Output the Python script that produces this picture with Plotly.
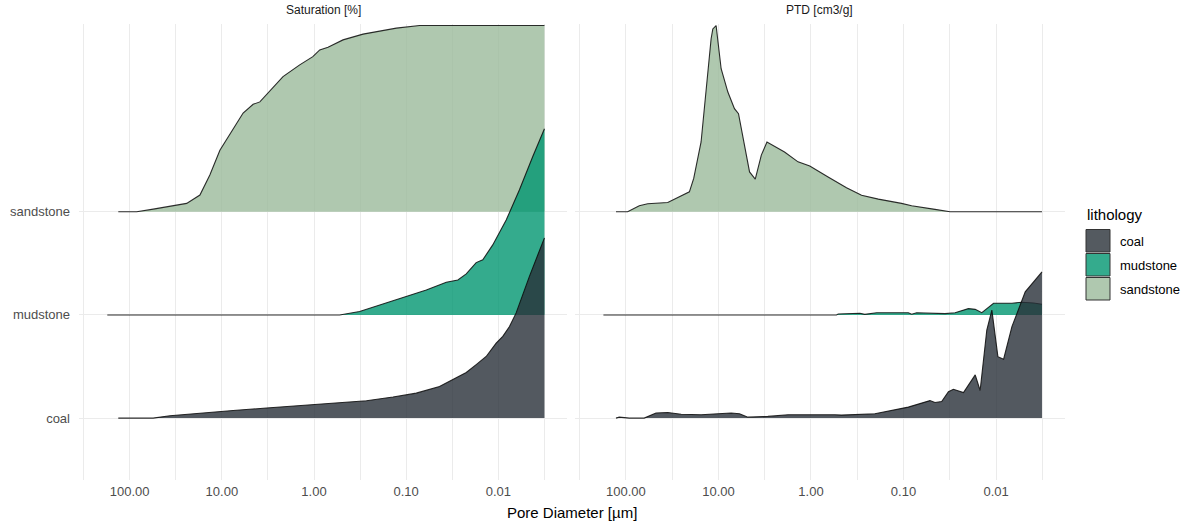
import plotly.graph_objects as go

# ---------------- data ----------------
lithologies = ["coal", "mudstone", "sandstone"]
panels = ["Saturation [%]", "PTD [cm3/g]"]
x_tick_values = [100, 10, 1, 0.1, 0.01]
x_tick_labels = ["100.00", "10.00", "1.00", "0.10", "0.01"]
x_minor_values = [316.2, 31.62, 3.162, 0.3162, 0.03162, 0.003162]

# Saturation [%] vs pore diameter [um]
sat_sandstone_d = [132.9, 84, 55.5, 39.7, 24.1, 17.3, 13.5, 10.5, 7.85, 5.88, 4.58, 3.87,
                   2.17, 1.43, 1.03, 0.867, 0.705, 0.485, 0.294, 0.128, 0.0716, 0.00316]
sat_sandstone_v = [0, 0, 1.4, 2.7, 4.5, 9, 19.7, 33, 43, 53, 57.7, 59,
                   72.6, 78.9, 83.3, 86.9, 88.4, 92.3, 95.4, 98.6, 100, 100]

sat_mudstone_d = [175, 0.527, 0.320, 0.179, 0.0997, 0.0605, 0.0367, 0.0275, 0.0223, 0.0174,
                  0.01475, 0.0115, 0.00822, 0.0059, 0.00423, 0.00316]
sat_mudstone_v = [0, 0, 1.8, 5.7, 9.8, 13.4, 17.6, 18.8, 22, 28.1,
                  29.6, 37.6, 51, 67.2, 85.1, 100]

sat_coal_d = [133, 55.5, 36.6, 17.3, 7.55, 3.28, 1.43, 0.622, 0.270, 0.139, 0.0778, 0.0435,
              0.0312, 0.0223, 0.0174, 0.01355, 0.01056, 0.00895, 0.00757, 0.00641, 0.0046, 0.00316]
sat_coal_v = [0, 0, 1.25, 2.7, 4.1, 5.4, 6.6, 8.1, 9.3, 11.3, 13.4, 17,
              20.6, 24.5, 28.7, 33.1, 40.3, 43.9, 49.2, 56.5, 76.1, 96.8]

# PTD, relative to the largest value in the panel
ptd_sandstone_d = [128, 95.8, 71.7, 58.2, 35.3, 20.6, 18.5, 15.4, 12.0, 11.5, 10.6, 9.35, 7.91,
                   6.71, 6.07, 4.61, 4.0, 3.44, 2.99, 1.93, 1.38, 1.03, 0.653, 0.413, 0.284,
                   0.187, 0.105, 0.0817, 0.0457, 0.0314, 0.00319]
ptd_sandstone_v = [0, 0, 0.032, 0.043, 0.050, 0.107, 0.179, 0.375, 0.929, 0.982, 1.0, 0.768, 0.643,
                   0.554, 0.527, 0.214, 0.175, 0.304, 0.375, 0.321, 0.268, 0.246, 0.187, 0.129, 0.089,
                   0.068, 0.045, 0.032, 0.013, 0, 0]

ptd_mudstone_d = [175, 0.531, 0.508, 0.296, 0.262, 0.195, 0.0887, 0.0817, 0.0721, 0.0356, 0.0277,
                  0.0199, 0.0168, 0.01425, 0.01064, 0.00674, 0.00525, 0.00393, 0.00319]
ptd_mudstone_v = [0, 0, 0.005, 0.009, 0.003, 0.012, 0.012, 0.004, 0.012, 0.007, 0.012,
                  0.034, 0.030, 0.012, 0.063, 0.063, 0.068, 0.064, 0.057]

ptd_coal_d = [128, 118, 92.1, 63.4, 47.3, 35.3, 25.3, 15.4, 10.1, 7.28, 5.92, 4.80, 2.92, 1.77,
              0.553, 0.468, 0.204, 0.0887, 0.0518, 0.0457, 0.0387, 0.0327, 0.0289, 0.0225, 0.0168,
              0.01486, 0.01259, 0.01110, 0.00955, 0.00829, 0.00674, 0.00484, 0.00319]
ptd_coal_v = [0, 0.005, 0, 0, 0.027, 0.030, 0.021, 0.018, 0.023, 0.027, 0.023, 0.005, 0.009, 0.018,
              0.018, 0.016, 0.023, 0.059, 0.094, 0.084, 0.089, 0.142, 0.155, 0.137, 0.232,
              0.148, 0.473, 0.580, 0.330, 0.316, 0.491, 0.678, 0.785]

# ---------------- styling ----------------
W, H = 1181, 522
FILL = {"coal": "rgba(40,48,56,0.8)", "mudstone": "rgba(1,150,113,0.8)", "sandstone": "rgba(155,186,155,0.8)"}
LEGEND_FILL = {"coal": "#545a60", "mudstone": "#34ab8d", "sandstone": "#afc8af"}
LINE = "rgba(10,10,10,0.85)"
BASE = {"coal": 1, "mudstone": 2, "sandstone": 3}
SCALE = 1.805
FONT = "Liberation Sans, Arial, sans-serif"

series = {
    ("x", "y"): {
        "sandstone": (sat_sandstone_d, [v / 100 for v in sat_sandstone_v]),
        "mudstone": (sat_mudstone_d, [v / 100 for v in sat_mudstone_v]),
        "coal": (sat_coal_d, [v / 100 for v in sat_coal_v]),
    },
    ("x2", "y2"): {
        "sandstone": (ptd_sandstone_d, ptd_sandstone_v),
        "mudstone": (ptd_mudstone_d, ptd_mudstone_v),
        "coal": (ptd_coal_d, ptd_coal_v),
    },
}

fig = go.Figure()
for (xa, ya), data in series.items():
    for lith in ["sandstone", "mudstone", "coal"]:
        d, v = data[lith]
        b = BASE[lith]
        yy = [b + SCALE * val for val in v]
        fig.add_trace(go.Scatter(
            x=list(d) + [d[-1], d[0]], y=yy + [b, b], fill="toself",
            fillcolor=FILL[lith], line=dict(width=0), mode="lines",
            xaxis=xa, yaxis=ya, showlegend=False, hoverinfo="skip"))
        fig.add_trace(go.Scatter(
            x=d, y=yy, mode="lines", line=dict(color=LINE, width=1.1),
            xaxis=xa, yaxis=ya, showlegend=False, name=lith))


def px(x):
    return x / W


def py(y):
    return 1 - y / H


left = (79, 567)
right = (575, 1065)
top, bottom = 24, 480

all_tickvals = []
all_ticktext = []
for v in sorted(x_tick_values + x_minor_values, reverse=True):
    all_tickvals.append(v)
    all_ticktext.append(x_tick_labels[x_tick_values.index(v)] if v in x_tick_values else "")

xcommon = dict(type="log", range=[2.55, -2.745], tickmode="array", tickvals=all_tickvals,
               ticktext=all_ticktext, showgrid=True, gridcolor="#ebebeb", gridwidth=1,
               zeroline=False, showline=False, ticks="", ticklabelstandoff=2,
               tickfont=dict(family=FONT, size=13, color="#4d4d4d"))
ycommon = dict(range=[0.4, 4.82], tickmode="array", tickvals=[1, 2, 3], ticktext=lithologies,
               showgrid=True, gridcolor="#ebebeb", gridwidth=1, zeroline=False, showline=False,
               ticks="", tickfont=dict(family=FONT, size=13, color="#4d4d4d"))

fig.update_layout(
    width=W, height=H, margin=dict(l=0, r=0, t=0, b=0),
    paper_bgcolor="white", plot_bgcolor="white",
    xaxis=dict(domain=[px(left[0]), px(left[1])], anchor="y", **xcommon),
    xaxis2=dict(domain=[px(right[0]), px(right[1])], anchor="y2", **xcommon),
    yaxis=dict(domain=[py(bottom), py(top)], anchor="x", showticklabels=True,
               ticklabelstandoff=8, **ycommon),
    yaxis2=dict(domain=[py(bottom), py(top)], anchor="x2", showticklabels=False, **ycommon),
    showlegend=False,
)

annotations = []
for name, (a, b) in zip(panels, [left, right]):
    annotations.append(dict(text=name, x=px((a + b) / 2), y=py(10), xref="paper", yref="paper",
                            showarrow=False, xanchor="center", yanchor="middle",
                            font=dict(family=FONT, size=12, color="#1a1a1a")))
annotations.append(dict(text="Pore Diameter [µm]", x=px((left[0] + right[1]) / 2), y=py(512),
                        xref="paper", yref="paper", showarrow=False, xanchor="center",
                        yanchor="middle", font=dict(family=FONT, size=15, color="#000000")))
annotations.append(dict(text="lithology", x=px(1085), y=py(215), xref="paper", yref="paper",
                        showarrow=False, xanchor="left", yanchor="middle",
                        font=dict(family=FONT, size=15, color="#000000")))

shapes = []
box_tops = [229.5, 253.5, 277.5]
for lith, t in zip(lithologies, box_tops):
    shapes.append(dict(type="rect", xref="paper", yref="paper", x0=px(1086), x1=px(1110),
                       y0=py(t + 22.5), y1=py(t), fillcolor=LEGEND_FILL[lith],
                       line=dict(color="#333333", width=1)))
    annotations.append(dict(text=lith, x=px(1118), y=py(t + 11.5), xref="paper", yref="paper",
                            showarrow=False, xanchor="left", yanchor="middle",
                            font=dict(family=FONT, size=13, color="#000000")))

fig.update_layout(annotations=annotations, shapes=shapes)
fig.write_html("out.html", config={"displayModeBar": False},
               post_script="document.body.style.margin='0';document.body.style.overflow='hidden';")
